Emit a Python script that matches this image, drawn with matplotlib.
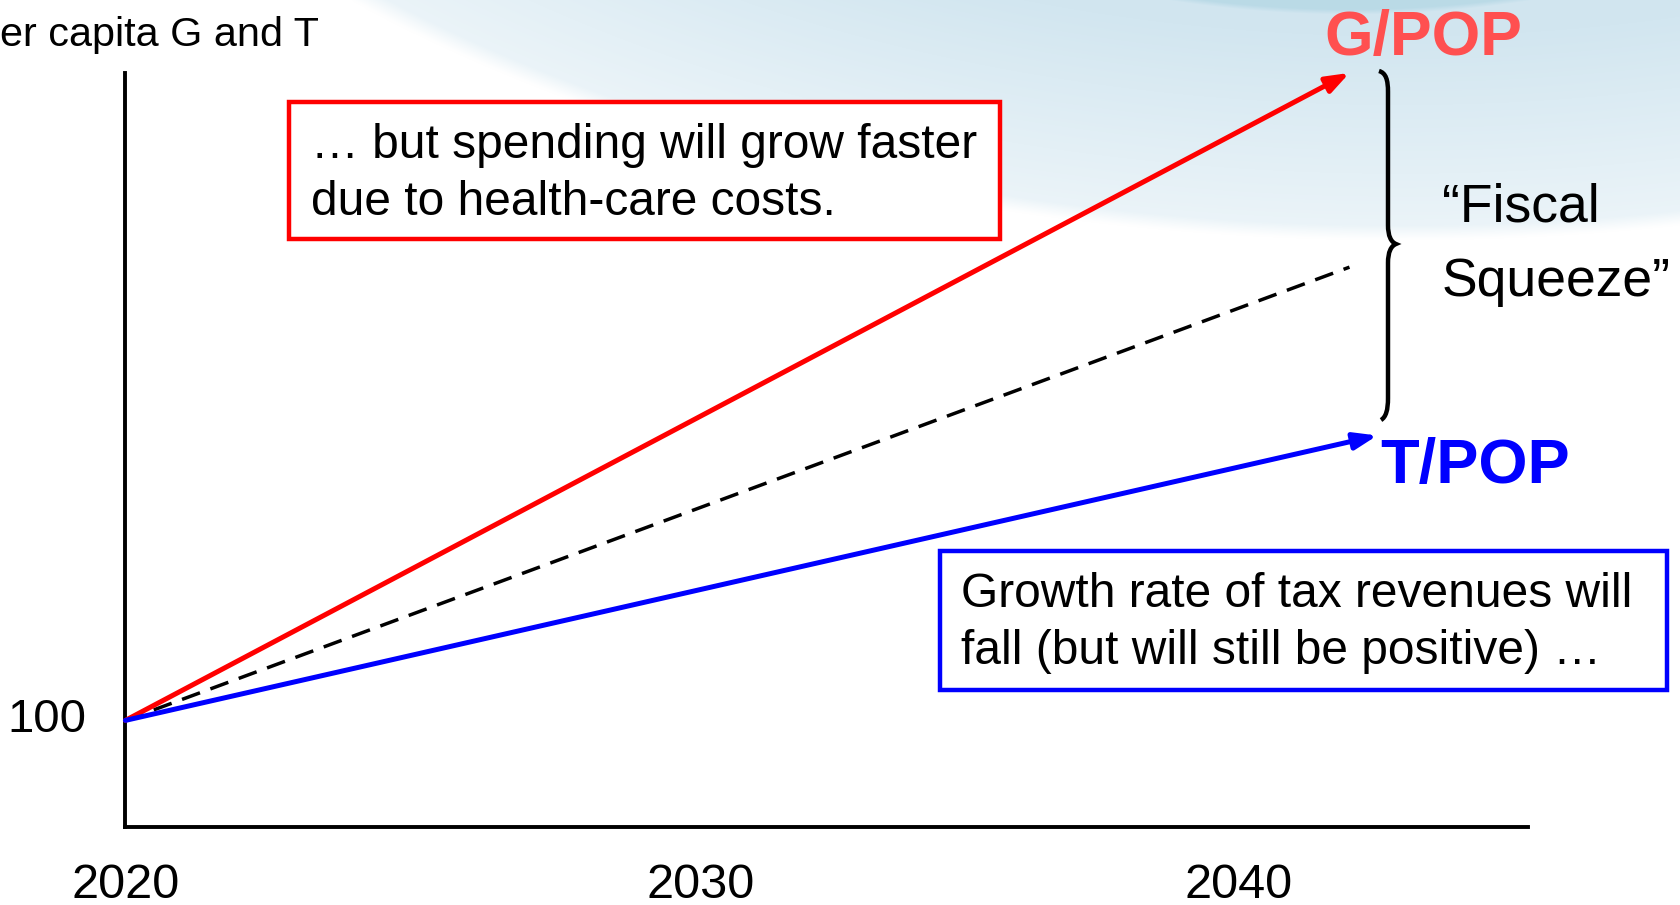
import matplotlib
matplotlib.use('Agg')
import matplotlib.pyplot as plt
import numpy as np
from matplotlib.patches import Rectangle, PathPatch
from matplotlib.path import Path
from matplotlib.transforms import ScaledTranslation

plt.rcParams['font.family'] = ['Liberation Sans', 'DejaVu Sans']

# per-capita index, 2020 = 100
gov_years = [2020, 2042]
gov_index = [100, 200]
tax_years = [2020, 2042.5]
tax_index = [100, 144]
trend_years = [2020, 2042]
trend_index = [100, 170]

year_ticks = [2020, 2030, 2040]
index_ticks = [100]

W, H = 1681, 905
DPI = 100


def fx(x):
    return x / W


def fy(y):
    return 1 - y / H


def draw_background(fig):
    bg = fig.add_axes([0, 0, 1, 1], zorder=-10)
    bg.axis('off')
    yy, xx = np.mgrid[0:H, 0:W].astype(float)

    # large pale swoosh across the top
    d1 = np.sqrt(((xx - 1400) / 1500) ** 2 + ((yy + 600) / 840) ** 2)
    edge1 = np.clip((1 - d1) * 60, 0, 1)
    k1 = edge1 * (0.4 + 0.6 * np.clip((1 - d1) / 0.25, 0, 1))

    # darker strip along the top edge
    d2 = np.sqrt(((xx - 1350) / 700) ** 2 + ((yy + 400) / 415) ** 2)
    k2 = np.clip((1 - d2) * 80, 0, 1)

    white = np.array([1.0, 1.0, 1.0])
    pale = np.array([0.82, 0.90, 0.94])
    dark = np.array([0.73, 0.855, 0.905])
    img = white * (1 - k1[..., None]) + pale * k1[..., None]
    img = img * (1 - k2[..., None]) + dark * k2[..., None]

    bg.imshow(img, extent=[0, W, H, 0], aspect='auto', interpolation='bilinear')
    bg.set_xlim(0, W)
    bg.set_ylim(H, 0)


def main():
    fig = plt.figure(figsize=(W / DPI, H / DPI), dpi=DPI)
    draw_background(fig)

    # axes box: y-axis at x=125, x-axis at y=827, top at y=73 (pixels)
    ax = fig.add_axes([fx(125.4), fy(826.6), (1527.6 - 125.4) / W, (826.6 - 72.9) / H],
                      zorder=1)
    ax.set_facecolor('none')
    px_per_year = 55.64
    px_per_unit = 6.475
    ax.set_xlim(2020, 2020 + (1527.6 - 125.4) / px_per_year)
    ax.set_ylim(100 - (826.6 - 720.4) / px_per_unit, 200)

    for side in ['top', 'right']:
        ax.spines[side].set_visible(False)
    for side in ['left', 'bottom']:
        ax.spines[side].set_linewidth(2.8)
        ax.spines[side].set_color('black')
        ax.spines[side].set_capstyle('projecting')

    ax.set_xticks(year_ticks)
    ax.set_yticks(index_ticks)
    ax.tick_params(axis='both', length=0)
    ax.tick_params(axis='x', pad=26, labelsize=35)
    ax.tick_params(axis='y', pad=28, labelsize=34)
    mid = ax.get_xticklabels()[1]
    mid.set_transform(mid.get_transform() + ScaledTranslation(0.19, 0, fig.dpi_scale_trans))
    ax.get_yticklabels()[0].set_transform(
        ax.get_yticklabels()[0].get_transform()
        + ScaledTranslation(0, 0.05, fig.dpi_scale_trans))

    # dashed reference path
    ax.plot(trend_years, trend_index, color='black', lw=2.5, ls=(0, (5.5, 3.2)),
            zorder=3, clip_on=False)

    # spending and revenue arrows
    for yrs, vals, col in [(gov_years, gov_index, '#FF0000'),
                           (tax_years, tax_index, '#0000FF')]:
        ax.annotate('', xy=(yrs[-1], vals[-1]), xytext=(yrs[0], vals[0]),
                    annotation_clip=False, zorder=4,
                    arrowprops=dict(arrowstyle='-|>,head_length=0.55,head_width=0.2',
                                    color=col, lw=3.6, mutation_scale=25,
                                    shrinkA=0, shrinkB=0))

    ax.text(2043.32, 205.3, 'G/POP', color='#FF5050', fontsize=45, fontweight='bold',
            ha='center', va='center', clip_on=False)
    ax.text(2042.55, 139.2, 'T/POP', color='#0000FF', fontsize=45.5, fontweight='bold',
            ha='left', va='center', clip_on=False)

    # curly brace between the two arrow tips
    verts = [(1379, 71), (1386, 73), (1388, 80), (1388, 92),
             (1388, 225),
             (1388, 236), (1391, 242), (1396, 244),
             (1391, 246), (1388, 252), (1388, 263),
             (1388, 398),
             (1388, 410), (1386, 417), (1381, 420)]
    codes = ([Path.MOVETO] + [Path.CURVE4] * 3 + [Path.LINETO] + [Path.CURVE4] * 6
             + [Path.LINETO] + [Path.CURVE4] * 3)
    brace = Path([(fx(x), fy(y)) for x, y in verts], codes)
    fig.add_artist(PathPatch(brace, transform=fig.transFigure, fill=False,
                             edgecolor='black', lw=3.2, zorder=5))

    fig.text(fx(1442), fy(245), '\u201cFiscal\nSqueeze\u201d', fontsize=38.5,
             ha='left', va='center', linespacing=1.62, zorder=5)

    # axis title, runs off the left edge
    fig.text(fx(-23), fy(35), 'per capita G and T', fontsize=29.8,
             ha='left', va='center')

    # callout boxes
    fig.add_artist(Rectangle((fx(289), fy(239)), (1000 - 289) / W, (239 - 102) / H,
                             transform=fig.transFigure, facecolor='white',
                             edgecolor='#FF0000', lw=3.2, zorder=2))
    fig.text(fx(311), fy(174), '\u2026 but spending will grow faster\ndue to health-care costs.',
             fontsize=34.5, ha='left', va='center', linespacing=1.34, zorder=3)

    fig.add_artist(Rectangle((fx(940), fy(690)), (1667 - 940) / W, (690 - 551) / H,
                             transform=fig.transFigure, facecolor='white',
                             edgecolor='#0000FF', lw=3.2, zorder=2))
    fig.text(fx(961), fy(623),
             'Growth rate of tax revenues will\nfall (but will still be positive) \u2026',
             fontsize=34.5, ha='left', va='center', linespacing=1.34, zorder=3)

    fig.savefig('out.png', dpi=DPI)
    plt.close(fig)


if __name__ == '__main__':
    main()
